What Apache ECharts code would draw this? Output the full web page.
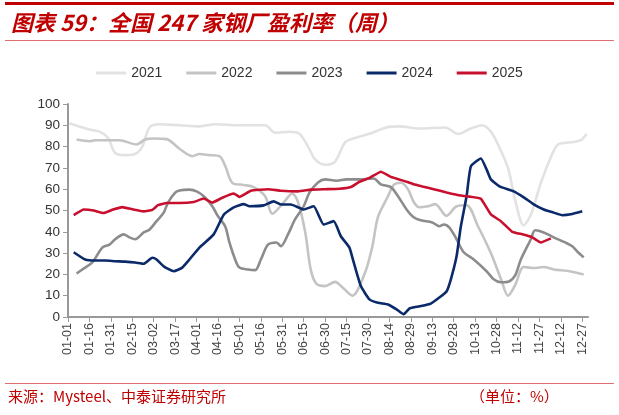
<!DOCTYPE html>
<html><head><meta charset="utf-8">
<script src="https://cdn.jsdelivr.net/npm/echarts@6/dist/echarts.min.js"></script>
<style>html,body{margin:0;padding:0;background:#fff}#c{width:619px;height:415px}</style>
</head><body><div id="c"></div>
<script>
// x-axis tick labels (every 15 days from 01-01)
const tickLabels = ['01-01','01-16','01-31','02-15','03-02','03-17','04-01','04-16','05-01','05-16','05-31','06-15','06-30','07-15','07-30','08-14','08-29','09-13','09-28','10-13','10-28','11-12','11-27','12-12','12-27'];
const seriesNames = ['2021','2022','2023','2024','2025'];

// day-of-year positions and values
const days2021 = [1,15,22,28,33,40,47,52,57,64,78,92,103,120,138,145,155,162,168,173,180,187,194,201,211,223,232,246,264,273,282,290,296,301,308,313,319,324,331,338,343,352,359,363];
const vals2021 = [91,88,87,84,77,76,76.5,80,89,90.5,90,89.5,90.5,90,90,86.5,87,86,80,74,71.5,73,82,84,86,89,89.5,88.5,89,86,88.5,90,87,81,70,55,43,48,63,75,81,82,83,86];

const days2022 = [6,15,19,36,48,54,60,69,78,87,92,99,106,110,115,123,130,138,143,151,157,161,166,170,174,180,187,192,199,208,213,217,224,228,233,238,242,246,252,257,265,272,279,287,296,303,308,313,319,326,333,340,350,361];
const vals2022 = [83.3,82.5,83,83,81,83.3,83.8,83.5,79,75.5,76.5,76,75.5,71,63,62,61,56.7,48.5,53.8,58,54,40,22,15.5,14.5,16.5,14,10,21,33,47,56.7,62,63,60,54,51.5,52,53,47.5,52,52.5,42.6,30,18,10,15,23.5,23,23.5,22.3,21.6,20];

const days2023 = [6,10,17,24,29,33,39,43,47,53,57,62,67,70,75,78,85,90,95,101,105,110,113,117,120,126,131,135,140,146,149,154,159,165,169,175,180,188,195,204,214,219,226,231,237,242,247,255,260,263,267,272,277,284,293,298,303,309,313,317,324,327,333,340,348,353,357,361];
const vals2023 = [20.4,22.3,25.6,32.6,34,36.5,38.8,37.4,36.5,39.7,41,45,49,53.7,58.4,59.4,59.8,59,56.7,52,47.3,42.6,35,27,23.2,22.3,22,27,34,35,33.2,38.8,45.9,52,58.4,63.2,64.6,64,64.6,64.6,65,62.3,61,56.7,50.5,46.8,45.4,44.4,42.6,43.4,42,36.5,30.4,27,21.5,17.7,16.3,16.8,19.5,27,36.5,40.7,39.7,37.4,35,33.2,30.4,28];

const days2024 = [4,12,19,26,33,40,47,53,59,62,67,74,80,85,92,102,109,116,123,127,137,144,149,156,165,172,179,186,191,197,200,205,211,217,224,230,235,239,246,254,260,265,268,272,275,279,282,289,293,296,302,312,319,326,333,340,346,352,360];
const vals2024 = [30.4,27,26.5,26.5,26.2,26,25.6,25,27.8,27,23.8,21.5,23.2,27,32.6,38.8,48,51.5,53,52,52.4,54.3,52.8,52.8,50.5,52,43.4,45,37.9,32.6,25.6,14.5,8.3,6.7,5.9,3.6,1.3,4,5,6.3,9.2,12,17.7,28.5,42.6,56.7,70.7,74.4,69.3,64.6,61.3,59,56.2,52.9,50.5,49,47.8,48.2,49.6];

const days2025 = [4,11,18,25,31,38,45,53,59,63,69,78,88,95,101,108,116,120,128,140,149,161,170,180,190,198,204,211,219,226,237,242,248,256,265,275,281,289,296,303,311,318,325,331,338];
const vals2025 = [47.8,50.5,50,48.8,50.3,51.6,50.6,49.6,50.3,52.5,53.5,53.5,54,55.6,53.7,56,58,56.4,59.3,60,59.3,59,59.8,60,60.2,61,63.5,65.3,68.2,65.8,63.5,62.3,61.3,60,58.5,57,56.5,55.5,48.2,45,40,38.8,37.4,35,36.9];

const allDays = [days2021,days2022,days2023,days2024,days2025];
const allVals = [vals2021,vals2022,vals2023,vals2024,vals2025];
const colors = ['#e2e2e2','#c4c4c4','#8c8c8c','#0b2a6a','#c8102e'];
const smooths = [0.3,0.3,0.3,0.15,0.1];

const categories = [];
for (let i = 0; i < 365; i++) categories.push(i % 15 === 0 ? tickLabels[i/15] : String(i));

const chart = echarts.init(document.getElementById('c'), null, {renderer:'canvas'});
const font = '"Liberation Sans", Arial, sans-serif';
chart.setOption({
  animation: false,
  title: {
    text: '图表 59：全国 247 家钢厂盈利率（周）',
    left: 6, top: 7,
    textStyle: {color:'#c00000', fontSize: 22, fontWeight:'bold', fontStyle:'italic', fontFamily:'"Noto Sans CJK SC", sans-serif'}
  },
  graphic: [
    {type:'rect', shape:{x:5,y:2,width:609,height:3}, style:{fill:'#c00000'}},
    {type:'rect', shape:{x:5,y:40,width:609,height:1}, style:{fill:'#e07070'}},
    {type:'rect', shape:{x:5,y:383,width:609,height:1}, style:{fill:'#e07070'}},
    {type:'text', left:8, top:389, style:{text:'来源：Mysteel、中泰证券研究所', fill:'#c00000', fontSize:15, fontFamily:'"Noto Sans CJK SC", sans-serif'}},
    {type:'text', left:470, top:389, style:{text:'（单位：%）', fill:'#c00000', fontSize:15, fontFamily:'"Noto Sans CJK SC", sans-serif'}}
  ],
  legend: {
    top: 61, left: 'center',
    icon: 'rect', itemWidth: 30, itemHeight: 3, itemGap: 24,
    textStyle: {color:'#333', fontSize: 14, fontFamily: font},
    data: seriesNames
  },
  grid: {left: 68, right: 31, top: 104, bottom: 98, containLabel: false},
  xAxis: {
    type: 'category', data: categories, boundaryGap: false,
    axisLine: {lineStyle:{color:'#999', width:2}},
    axisTick: {show:true, interval:14, length:5, lineStyle:{color:'#999', width:1}},
    axisLabel: {interval:14, rotate:90, color:'#444', fontSize:12.5, fontFamily: font, margin:6},
    splitLine: {show:false}
  },
  yAxis: {
    type: 'value', min: 0, max: 100, interval: 10,
    axisLine: {show:true, lineStyle:{color:'#999', width:2}},
    axisTick: {show:true, length:5, lineStyle:{color:'#999'}},
    axisLabel: {color:'#333', fontSize:13.5, fontFamily: font, margin:8},
    splitLine: {show:false}
  },
  series: seriesNames.map((n, k) => ({
    name: n, type: 'line', showSymbol: false, symbol:'none',
    smooth: smooths[k],
    lineStyle: {color: colors[k], width: 2.6},
    itemStyle: {color: colors[k]},
    data: allDays[k].map((d, i) => [d, allVals[k][i]])
  }))
});
</script></body></html>
